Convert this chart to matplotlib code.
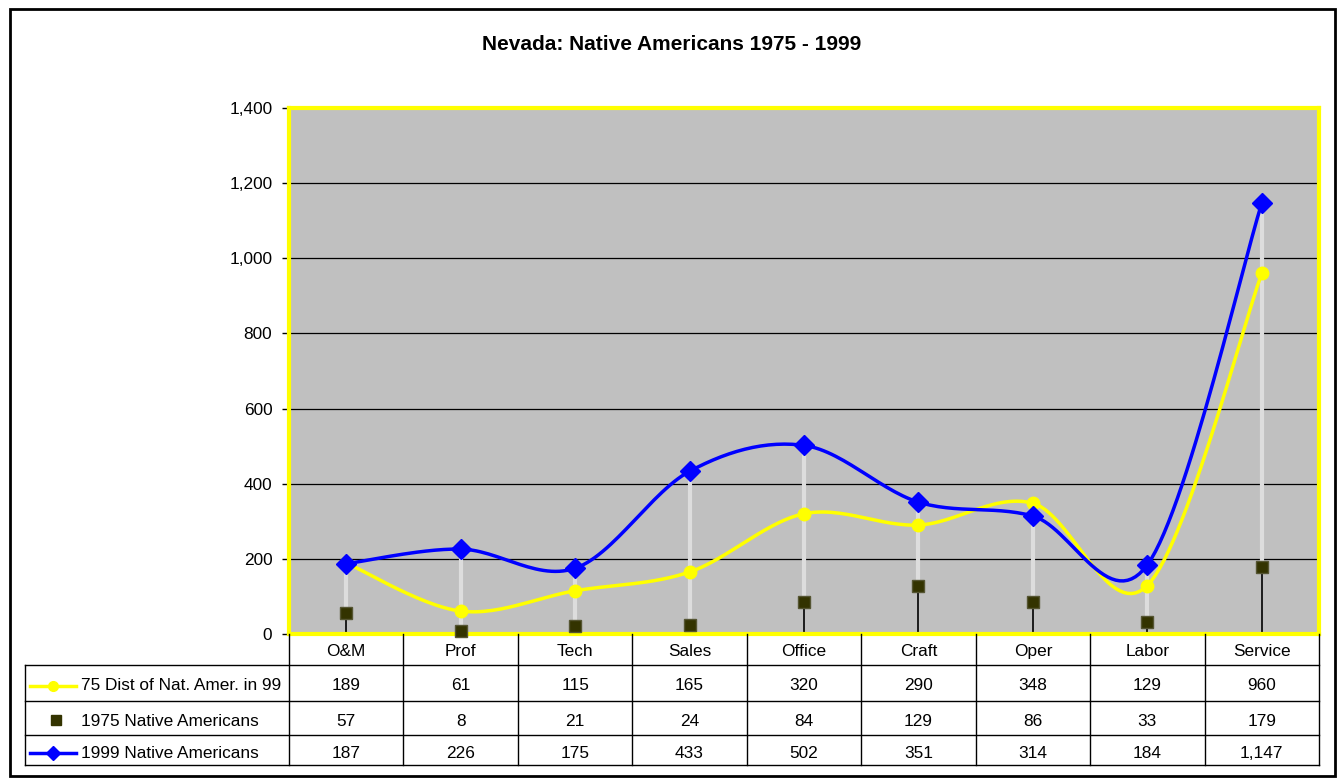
import matplotlib
matplotlib.use("Agg")
import matplotlib.pyplot as plt
from matplotlib.lines import Line2D
from matplotlib.patches import Rectangle
import numpy as np

categories = ["O&M", "Prof", "Tech", "Sales", "Office", "Craft", "Oper", "Labor", "Service"]
dist75_in_99 = [189, 61, 115, 165, 320, 290, 348, 129, 960]
native_1975 = [57, 8, 21, 24, 84, 129, 86, 33, 179]
native_1999 = [187, 226, 175, 433, 502, 351, 314, 184, 1147]
series_names = ["75 Dist of Nat. Amer. in 99", "1975 Native Americans", "1999 Native Americans"]
yticks = [0, 200, 400, 600, 800, 1000, 1200, 1400]

plt.rcParams['font.family'] = ['Liberation Sans', 'DejaVu Sans']

W, H = 1338, 779
fig = plt.figure(figsize=(W / 100, H / 100), dpi=100)

def fx(px):
    return px / W

def fy(py):
    return 1 - py / H

FS = 12.4

# outer frame
fig.add_artist(Rectangle((fx(10), fy(776)), fx(1335) - fx(10), fy(9) - fy(776),
                         transform=fig.transFigure, fill=False, edgecolor='black', lw=2))

fig.text(fx(672), fy(44), "Nevada: Native Americans 1975 - 1999", ha='center', va='center',
         fontsize=15, fontweight='bold')

L, R, T, B = 289, 1319, 108, 634
ax = fig.add_axes([fx(L), fy(B), fx(R) - fx(L), fy(T) - fy(B)])
ax.set_facecolor('#C0C0C0')
n = len(categories)
x = np.arange(n)
ax.set_xlim(-0.5, n - 0.5)
ax.set_ylim(0, 1400)
ax.set_yticks(yticks)
ax.set_yticklabels([f"{v:,}" for v in yticks], fontsize=FS)
ax.tick_params(axis='y', length=5, width=1, pad=7, direction='out')
ax.set_xticks([])
for s in ax.spines.values():
    s.set_color('yellow')
    s.set_linewidth(3)
for v in yticks[1:-1]:
    ax.axhline(v, color='black', lw=0.9, zorder=1)


def smooth(xs, ys, steps=30):
    xs = np.asarray(xs, float)
    ys = np.asarray(ys, float)
    P = np.column_stack([xs, ys])
    out = [P[0]]
    for i in range(len(P) - 1):
        p0 = P[i - 1] if i > 0 else P[i]
        p1 = P[i]
        p2 = P[i + 1]
        p3 = P[i + 2] if i + 2 < len(P) else P[i + 1]
        c1 = p1 + (p2 - p0) / 6
        c2 = p2 - (p3 - p1) / 6
        t = np.linspace(0, 1, steps)[1:, None]
        pts = ((1 - t) ** 3) * p1 + 3 * ((1 - t) ** 2) * t * c1 + 3 * (1 - t) * t ** 2 * c2 + t ** 3 * p2
        out.extend(pts)
    out = np.array(out)
    return out[:, 0], out[:, 1]

# drop lines and high-low lines
hi = np.maximum.reduce([dist75_in_99, native_1975, native_1999])
lo = np.minimum.reduce([dist75_in_99, native_1975, native_1999])
ax.vlines(x, 0, lo, color='black', lw=1.2, zorder=2)
ax.vlines(x, lo, hi, color='#DDDDDD', lw=3, zorder=2)

sx, sy = smooth(x, dist75_in_99)
ax.plot(sx, sy, color='#FFFF00', lw=2.5, zorder=3)
ax.plot(x, dist75_in_99, 'o', color='#FFFF00', ms=9, zorder=4)
sx, sy = smooth(x, native_1999)
ax.plot(sx, sy, color='#0000FF', lw=2.5, zorder=5)
ax.plot(x, native_1999, 'D', color='#0000FF', ms=10, zorder=6)
ax.plot(x, native_1975, 's', color='#333300', ms=8.5, mec='#555533', zorder=6, clip_on=False)

# data table
TL = 25
row_y = [634, 665, 701, 735, 765]
colw = (R - L) / n
def hline(y, x0, x1):
    fig.add_artist(Line2D([fx(x0), fx(x1)], [fy(y), fy(y)], transform=fig.transFigure, color='black', lw=1))
def vline(xx, y0, y1):
    fig.add_artist(Line2D([fx(xx), fx(xx)], [fy(y0), fy(y1)], transform=fig.transFigure, color='black', lw=1))

for y in row_y[1:]:
    hline(y, TL, R)
vline(TL, row_y[1], row_y[-1])
for j in range(n + 1):
    vline(L + j * colw, row_y[0], row_y[-1])

for j, c in enumerate(categories):
    fig.text(fx(L + (j + 0.5) * colw), fy((row_y[0] + row_y[1]) / 2 + 2), c, ha='center', va='center', fontsize=FS)
rows = [dist75_in_99, native_1975, native_1999]
for i, vals in enumerate(rows):
    yc = (row_y[i + 1] + row_y[i + 2]) / 2
    for j, v in enumerate(vals):
        fig.text(fx(L + (j + 0.5) * colw), fy(yc + 3), f"{v:,}", ha='center', va='center', fontsize=FS)
    fig.text(fx(81), fy(yc + 3), series_names[i], ha='left', va='center', fontsize=FS)

# legend keys
yc0 = (row_y[1] + row_y[2]) / 2 + 3
fig.add_artist(Line2D([fx(30), fx(76)], [fy(yc0), fy(yc0)], transform=fig.transFigure, color='#FFFF00', lw=2.5))
fig.add_artist(Line2D([fx(53)], [fy(yc0)], transform=fig.transFigure, color='#FFFF00', marker='o', ms=7))
yc1 = (row_y[2] + row_y[3]) / 2 + 2
fig.add_artist(Line2D([fx(56)], [fy(yc1)], transform=fig.transFigure, color='#333300', marker='s', ms=7, lw=0))
yc2 = (row_y[3] + row_y[4]) / 2 + 3
fig.add_artist(Line2D([fx(30), fx(76)], [fy(yc2), fy(yc2)], transform=fig.transFigure, color='#0000FF', lw=2.5))
fig.add_artist(Line2D([fx(53)], [fy(yc2)], transform=fig.transFigure, color='#0000FF', marker='D', ms=7))

fig.savefig("out.png", dpi=100)
